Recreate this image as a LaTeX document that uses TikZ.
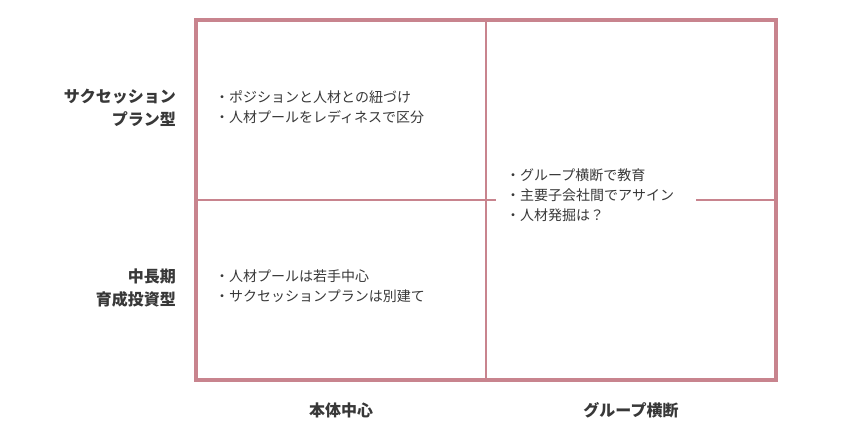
\documentclass[tikz,border=0pt]{standalone}
\usepackage{fontspec}
\setmainfont{Noto Sans CJK JP}
\definecolor{frame}{HTML}{C8848E}
\definecolor{txt}{HTML}{383838}
\tikzset{
  body/.style={font=\fontsize{14}{20}\selectfont, text=txt, align=left, inner sep=0pt, anchor=west},
  lab/.style={font=\bfseries\fontsize{16}{23}\selectfont, text=txt, align=right, inner sep=0pt, anchor=east},
  collab/.style={font=\bfseries\fontsize{16}{23}\selectfont, text=txt, inner sep=0pt},
  thin/.style={draw=frame, line width=2pt},
  thick/.style={draw=frame, line width=4pt}
}
\begin{document}
\begin{tikzpicture}[x=1pt,y=-1pt]
\useasboundingbox (0,0) rectangle (846,430);
\coordinate (tl) at (196,20);
\coordinate (br) at (776,380);
\coordinate (vt) at (486,20);
\coordinate (vb) at (486,380);
\coordinate (hl) at (196,200);
\coordinate (hr) at (776,200);
\draw[thin] (vt) -- (vb);
\draw[thin] (hl) -- (hr);
\draw[thick] (tl) rectangle (br);
\node[body] (q1) at (215,106.7) {・ポジションと人材との紐づけ\\・人材プールをレディネスで区分};
\node[body] (q3) at (215,286.5) {・人材プールは若手中心\\・サクセッションプランは別建て};
\node[body, fill=white, text width=180pt, inner xsep=10pt, inner ysep=6pt] (q2) at (496,195) {・グループ横断で教育\\・主要子会社間でアサイン\\・人材発掘は？};
\node[lab] (r1) at (176,108.3) {サクセッション\\プラン型};
\node[lab] (r2) at (176,288.3) {中長期\\育成投資型};
\node[collab] (c1) at (341,410.7) {本体中心};
\node[collab] (c2) at (631,410.7) {グループ横断};
\end{tikzpicture}
\end{document}
